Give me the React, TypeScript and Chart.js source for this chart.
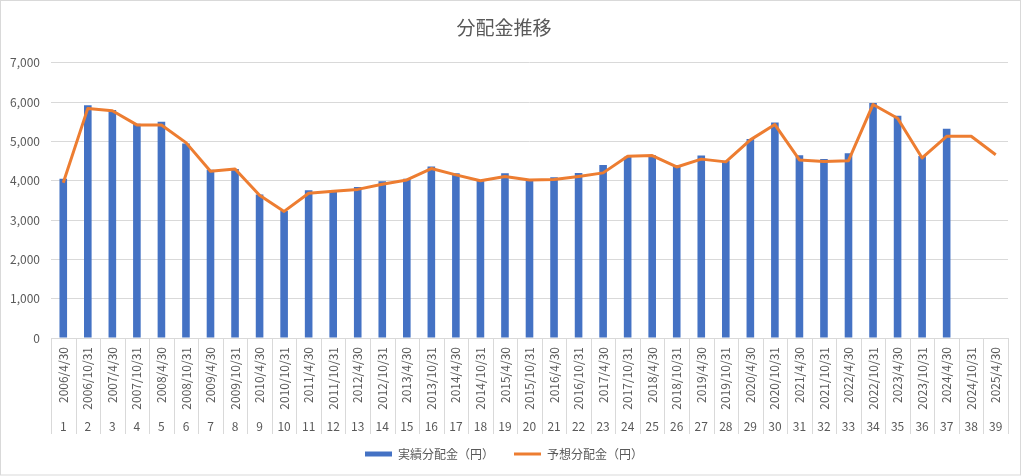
import React, { useEffect, useRef } from "react";
import { Chart, registerables } from "chart.js";

Chart.register(...registerables);

const dates = [
  "2006/4/30", "2006/10/31", "2007/4/30", "2007/10/31", "2008/4/30", "2008/10/31",
  "2009/4/30", "2009/10/31", "2010/4/30", "2010/10/31", "2011/4/30", "2011/10/31",
  "2012/4/30", "2012/10/31", "2013/4/30", "2013/10/31", "2014/4/30", "2014/10/31",
  "2015/4/30", "2015/10/31", "2016/4/30", "2016/10/31", "2017/4/30", "2017/10/31",
  "2018/4/30", "2018/10/31", "2019/4/30", "2019/10/31", "2020/4/30", "2020/10/31",
  "2021/4/30", "2021/10/31", "2022/4/30", "2022/10/31", "2023/4/30", "2023/10/31",
  "2024/4/30", "2024/10/31", "2025/4/30",
];

const periods = [
  "1", "2", "3", "4", "5", "6", "7", "8", "9", "10", "11", "12", "13", "14", "15",
  "16", "17", "18", "19", "20", "21", "22", "23", "24", "25", "26", "27", "28", "29",
  "30", "31", "32", "33", "34", "35", "36", "37", "38", "39",
];

const actual = [
  4050, 5920, 5800, 5450, 5500, 4950, 4280, 4300, 3650, 3230, 3760, 3720, 3840,
  3990, 4050, 4360, 4190, 4020, 4190, 4000, 4090, 4200, 4400, 4610, 4650, 4400,
  4640, 4510, 5060, 5480, 4650, 4550, 4700, 5980, 5650, 4630, 5320, null, null,
];

const forecast = [
  3950, 5840, 5780, 5420, 5420, 4970, 4240, 4300, 3630, 3220, 3680, 3730, 3780,
  3910, 4020, 4310, 4150, 4000, 4110, 4020, 4030, 4110, 4200, 4620, 4640, 4350,
  4550, 4480, 5040, 5430, 4530, 4490, 4510, 5940, 5590, 4580, 5130, 5130, 4660,
];

const yTicks = [0, 1000, 2000, 3000, 4000, 5000, 6000, 7000];

const TEXT = "#595959";
const GRID = "#D9D9D9";
const FONT = "'Noto Sans CJK JP', 'Noto Sans', sans-serif";

const framePlugin = {
  id: "frame",
  beforeDraw(chart: any) {
    const { ctx, width, height } = chart;
    ctx.save();
    ctx.fillStyle = "#ffffff";
    ctx.fillRect(0, 0, width, height);
    ctx.strokeStyle = GRID;
    ctx.lineWidth = 1;
    ctx.strokeRect(0.5, 0.5, width - 4, height - 1.5);
    ctx.restore();
  },
  afterDraw(chart: any) {
    const xs = chart.scales.x;
    const { ctx } = chart;
    const n = dates.length;
    const w = (xs.right - xs.left) / n;
    ctx.save();
    ctx.strokeStyle = GRID;
    ctx.lineWidth = 1;
    for (let i = 0; i <= n; i++) {
      const x = Math.round(xs.left + i * w) + 0.5;
      ctx.beginPath();
      ctx.moveTo(x, xs.top);
      ctx.lineTo(x, xs.bottom + 20);
      ctx.stroke();
    }
    ctx.restore();
  },
};

export default function App() {
  const ref = useRef<HTMLCanvasElement>(null);

  useEffect(() => {
    document.body.style.margin = "0";
    if (!ref.current) return;
    const chart = new Chart(ref.current, {
      type: "bar",
      data: {
        labels: dates,
        datasets: [
          {
            type: "bar",
            label: "実績分配金（円）",
            data: actual,
            backgroundColor: "#4472C4",
            borderWidth: 0,
            order: 2,
            pointStyle: "rect",
            barPercentage: 0.31,
            categoryPercentage: 1,
          } as any,
          {
            type: "line",
            label: "予想分配金（円）",
            data: forecast,
            borderColor: "#ED7D31",
            backgroundColor: "#ED7D31",
            borderWidth: 3,
            pointRadius: 0,
            tension: 0,
            order: 1,
            pointStyle: "line",
            borderJoinStyle: "round",
          } as any,
        ],
      },
      options: {
        responsive: false,
        animation: false,
        layout: { padding: { left: 0, right: 16, top: 0, bottom: 6 } },
        font: { family: FONT },
        plugins: {
          title: {
            display: true,
            text: "分配金推移",
            color: TEXT,
            font: { family: FONT, size: 19, weight: "normal" },
            padding: { top: 16, bottom: 24 },
          },
          legend: {
            position: "bottom",
            labels: {
              color: TEXT,
              font: { family: FONT, size: 12 },
              usePointStyle: true,
              pointStyleWidth: 27,
              boxHeight: 5,
              padding: 20,
              sort: (a: any, b: any) => a.datasetIndex - b.datasetIndex,
            },
          },
          tooltip: { enabled: false },
        },
        scales: {
          x: {
            type: "category",
            offset: true,
            grid: { display: false, drawTicks: false },
            border: { display: true, color: GRID },
            ticks: {
              color: TEXT,
              font: { family: FONT, size: 12 },
              minRotation: 90,
              maxRotation: 90,
              autoSkip: false,
              padding: 9,
            },
            afterFit: (axis: any) => {
              axis.height = 76;
            },
          },
          x2: {
            type: "category",
            labels: periods,
            position: "bottom",
            offset: true,
            grid: { display: false, drawTicks: false },
            border: { display: false },
            ticks: {
              color: TEXT,
              font: { family: FONT, size: 12 },
              autoSkip: false,
              maxRotation: 0,
              mirror: true,
              padding: -20,
            },
            afterFit: (axis: any) => {
              axis.height = 14;
            },
          },
          y: {
            min: 0,
            max: 7000,
            afterBuildTicks: (axis: any) => {
              axis.ticks = yTicks.map((v) => ({ value: v }));
            },
            afterFit: (axis: any) => {
              axis.width = 51;
            },
            grid: { color: GRID, drawTicks: false },
            border: { display: false },
            ticks: {
              color: TEXT,
              font: { family: FONT, size: 12 },
              padding: 11,
              callback: (v: any) => Number(v).toLocaleString("en-US"),
            },
          },
        },
      } as any,
      plugins: [framePlugin],
    });
    return () => chart.destroy();
  }, []);

  return <canvas ref={ref} width={1024} height={476} style={{ display: "block" }} />;
}
